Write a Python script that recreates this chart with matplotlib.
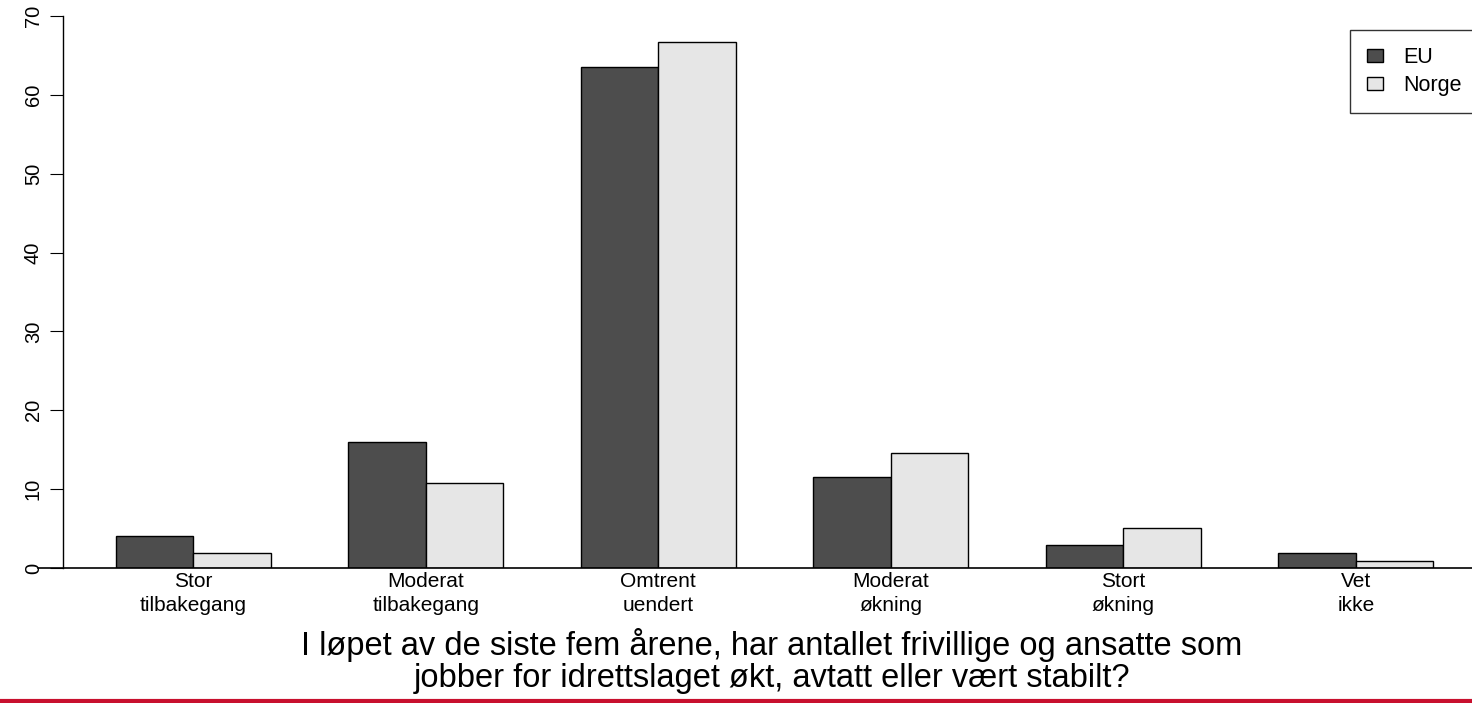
import matplotlib
matplotlib.use("Agg")
import matplotlib.pyplot as plt
from matplotlib.lines import Line2D

plt.rcParams['font.family'] = ['Liberation Sans', 'DejaVu Sans']

categories = ["Stor\ntilbakegang", "Moderat\ntilbakegang", "Omtrent\nuendert",
              "Moderat\nøkning", "Stort\nøkning", "Vet\nikke"]
eu = [4.0, 16.0, 63.5, 11.5, 2.9, 1.9]
norge = [1.9, 10.8, 66.7, 14.6, 5.1, 0.9]
series_names = ["EU", "Norge"]
yticks = [0, 10, 20, 30, 40, 50, 60, 70]
title = ("I løpet av de siste fem årene, har antallet frivillige og ansatte som\n"
         "jobber for idrettslaget økt, avtatt eller vært stabilt?")

W, H = 1472, 703
fig = plt.figure(figsize=(W / 100, H / 100), dpi=100)
# plot region runs past the right edge, like the original
left, right, top, bottom = 63, 1486, 16, 568
ax = fig.add_axes([left / W, 1 - bottom / H, (right - left) / W, (bottom - top) / H])

n = len(categories)
x_eu = [1 + 3 * i for i in range(n)]
x_no = [2 + 3 * i for i in range(n)]
ax.bar(x_eu, eu, width=1, align='edge', color='#4d4d4d', edgecolor='black', linewidth=1,
       label=series_names[0])
ax.bar(x_no, norge, width=1, align='edge', color='#e6e6e6', edgecolor='black', linewidth=1,
       label=series_names[1])

ax.set_xlim(0.32, 18.68)
ax.set_ylim(0, 70)
for s in ['top', 'right', 'bottom']:
    ax.spines[s].set_visible(False)
ax.spines['left'].set_bounds(0, 70)
ax.spines['left'].set_linewidth(1)
ax.plot([0, 18.68], [0, 0], color='black', linewidth=1.2, clip_on=False)

ax.set_yticks(yticks)
ax.set_yticklabels([str(v) for v in yticks], rotation=90, va='center', fontsize=14.5)
ax.tick_params(axis='y', length=9.5, width=0.8, pad=5)
ax.set_xticks([2 + 3 * i for i in range(n)])
ax.set_xticklabels(categories, fontsize=15, linespacing=1.3)
ax.tick_params(axis='x', length=0, pad=3)

fig.text(772 / W, 1 - 661 / H, title, ha='center', va='center', fontsize=23.5, linespacing=1.05)

leg = ax.legend(loc='upper left', bbox_to_anchor=(1350 / W, 1 - 30 / H),
                bbox_transform=fig.transFigure, fontsize=15.5, frameon=True, fancybox=False,
                edgecolor='black', borderpad=0.8, handlelength=0.75, handleheight=0.6,
                handletextpad=0.93, labelspacing=0.32, borderaxespad=0)
leg.get_frame().set_linewidth(1)

fig.add_artist(Line2D([0, 1], [1 - 701 / H, 1 - 701 / H], transform=fig.transFigure,
                      color='#c8102e', linewidth=3))

fig.savefig("out.png", dpi=100)
